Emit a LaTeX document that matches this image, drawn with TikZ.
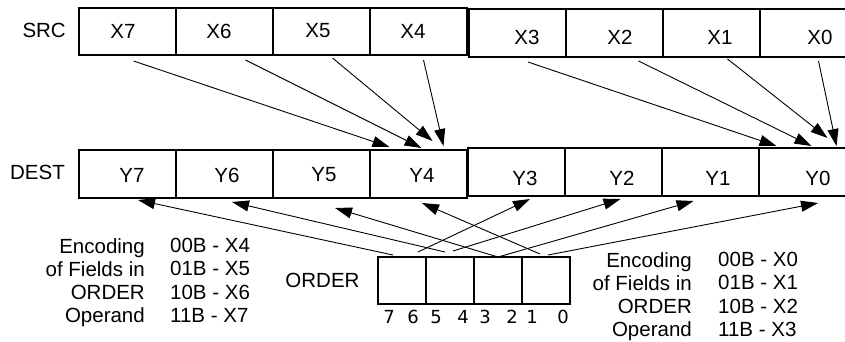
\documentclass[tikz,border=0pt]{standalone}
\usepackage{fontspec}
\setmainfont{Liberation Sans}
\newfontfamily\bitfont{DejaVu Sans}
\usetikzlibrary{arrows.meta}

\begin{document}
\begin{tikzpicture}[x=1pt,y=-1pt,
  cell/.style={draw,line width=2pt,minimum width=97pt,minimum height=48pt,inner sep=0pt},
  ordcell/.style={draw,line width=2pt,minimum width=48pt,minimum height=47pt,inner sep=0pt},
  txt/.style={font=\fontsize{20.5}{20.5}\selectfont,inner sep=0pt},
  blk/.style={font=\fontsize{20.5}{23.3}\selectfont,inner sep=0pt},
  bit/.style={font=\bitfont\fontsize{18}{18}\selectfont,inner sep=0pt},
  arr/.style={-{Triangle[length=17pt,width=11pt]},line width=0.9pt}]
\useasboundingbox (0,0) rectangle (845,341);

 \node[txt,anchor=east] (src) at (66,30.5) {SRC};
 \node[txt,anchor=east] (dest) at (65,172.5) {DEST};

% source operand
 \foreach \n/\cx/\tx in {7/127.5/123,6/224.5/219,5/321.5/318,4/418.5/413}{
   \node[cell,minimum height=47pt] (x\n) at (\cx,31.5) {};
   \node[txt] (tx\n) at (\tx,31) {X\n};
 }
 \foreach \n/\cx/\tx in {3/517/527,2/614.5/620,1/711.5/720,0/808.5/820}{
   \node[cell] (x\n) at (\cx,33) {};
   \node[txt] (tx\n) at (\tx,37) {X\n};
 }

% destination operand
 \foreach \n/\cx/\tx in {7/127.5/132,6/224.5/227,5/321.5/324,4/418.5/422}{
   \node[cell] (y\n) at (\cx,174) {};
   \node[txt] (ty\n) at (\tx,175) {Y\n};
 }
 \foreach \n/\cx/\tx in {3/516/525,2/613.5/622,1/710.5/718,0/807.5/818}{
   \node[cell] (y\n) at (\cx,172) {};
   \node[txt] (ty\n) at (\tx,178) {Y\n};
 }

% order operand
 \node[txt] (order) at (322.5,280) {ORDER};
 \foreach \f/\cx in {76/402,54/450,32/498,10/546}
   \node[ordcell] (b\f) at (\cx,280.5) {};
 \foreach \n/\bx in {7/389,6/413,5/436,4/463,3/485,2/512,1/532,0/563}
   \node[bit] (bit\n) at (\bx,316.7) {\n};

 \node[blk,align=right,anchor=north east] (enchi) at (145,238) {Encoding\\of Fields in\\ORDER\\Operand};
 \node[blk,align=left,anchor=north west] (selhi) at (170,238) {00B - X4\\01B - X5\\10B - X6\\11B - X7};
 \node[blk,align=right,anchor=north east] (enclo) at (692,252) {Encoding\\of Fields in\\ORDER\\Operand};
 \node[blk,align=left,anchor=north west] (sello) at (718,252) {00B - X0\\01B - X1\\10B - X2\\11B - X3};

% SRC -> DEST
 \foreach \src/\dst/\sx/\sy/\ex/\ey in {7/4/6/5/-29/-2, 6/4/21/4/3/-1, 5/4/11/2/14/-8, 4/4/5/4/25/-3,
   3/0/11/4/-31/-1, 2/0/24/3/4/-1, 1/0/16/1/20/-9, 0/0/10/3/29/-1}
   \draw[arr] ([shift={(\sx,\sy)}]x\src.south) -- ([shift={(\ex,\ey)}]y\dst.north);

% ORDER -> DEST
 \foreach \fld/\dst/\sx/\sy/\ex/\ey in {76/7/-9/-1/10.5/1, 76/3/16/-4/14/2, 54/6/-5/-4/7.5/3, 54/2/3/-5/7/2,
   32/5/0/1/13.5/9, 32/1/0/1/-17/4, 10/4/-6/-2/3.5/4, 10/0/2/-1/10.5/6}
   \draw[arr] ([shift={(\sx,\sy)}]b\fld.north) -- ([shift={(\ex,\ey)}]y\dst.south);
\end{tikzpicture}
\end{document}
